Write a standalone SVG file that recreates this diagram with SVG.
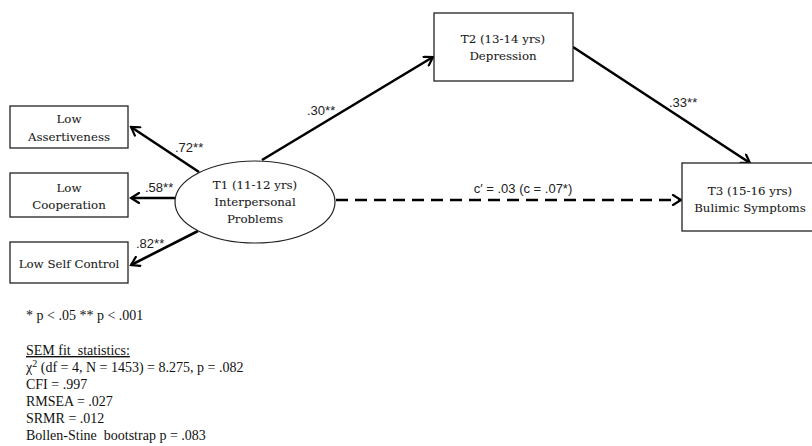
<svg xmlns="http://www.w3.org/2000/svg" width="812" height="446" viewBox="0 0 812 446">
<defs>
<marker id="arr" viewBox="0 0 12 12" refX="10" refY="6" markerWidth="12" markerHeight="12" markerUnits="userSpaceOnUse" orient="auto">
<path d="M2,1 L10,6 L2,11" fill="none" stroke="#000" stroke-width="2.2" stroke-linecap="round" stroke-linejoin="miter"/>
</marker>
<style>
.box{fill:#fff;stroke:#222;stroke-width:1.3}
.nt{font-family:"DejaVu Serif","Liberation Serif",serif;font-size:11.8px;fill:#1a1a1a;stroke:#1a1a1a;stroke-width:0.08;text-anchor:middle}
.lab{font-family:"Liberation Sans","Open Sans",sans-serif;font-size:13px;fill:#222}
.edge{stroke:#000;stroke-width:2.6;fill:none}
.note{font-family:"Liberation Serif","Times New Roman",serif;font-size:14px;fill:#111}
</style>
</defs>
<rect width="812" height="446" fill="#fff"/>
<g id="connectors">
<line class="edge" x1="199" y1="172" x2="131" y2="127" marker-end="url(#arr)"/>
<line class="edge" x1="175" y1="198" x2="131" y2="198" marker-end="url(#arr)"/>
<line class="edge" x1="198" y1="231" x2="131" y2="265" marker-end="url(#arr)"/>
<line class="edge" x1="262" y1="160" x2="433" y2="57" marker-end="url(#arr)"/>
<line class="edge" x1="573" y1="47" x2="750" y2="163" marker-end="url(#arr)"/>
<line class="edge" x1="336" y1="200" x2="681" y2="200" stroke-dasharray="12 7" stroke-width="3" marker-end="url(#arr)"/>
<text class="lab" x="175" y="152">.72**</text>
<text class="lab" x="145" y="192">.58**</text>
<text class="lab" x="136" y="248">.82**</text>
<text class="lab" x="307" y="115">.30**</text>
<text class="lab" x="669" y="107">.33**</text>
<text class="lab" x="523" y="193" text-anchor="middle">c′ = .03 (c = .07*)</text>
</g>
<g id="low-assertiveness">
<rect class="box" x="10" y="106" width="118" height="42"/>
<text class="nt" x="69" y="123">Low</text>
<text class="nt" x="69" y="141">Assertiveness</text>
</g>
<g id="low-cooperation">
<rect class="box" x="10" y="173" width="118" height="44"/>
<text class="nt" x="69" y="192">Low</text>
<text class="nt" x="69" y="209">Cooperation</text>
</g>
<g id="low-self-control">
<rect class="box" x="10" y="242" width="118" height="41"/>
<text class="nt" x="69" y="268">Low Self Control</text>
</g>
<g id="t1">
<ellipse cx="255" cy="202" rx="80" ry="41" fill="#fff" stroke="#222" stroke-width="1.2"/>
<text class="nt" x="255" y="189">T1 (11-12 yrs)</text>
<text class="nt" x="255" y="206">Interpersonal</text>
<text class="nt" x="255" y="223">Problems</text>
</g>
<g id="t2">
<rect class="box" x="434" y="13" width="139" height="68"/>
<text class="nt" x="503" y="43">T2 (13-14 yrs)</text>
<text class="nt" x="503" y="60">Depression</text>
</g>
<g id="t3">
<rect class="box" x="682" y="163" width="136" height="68"/>
<text class="nt" x="750" y="195">T3 (15-16 yrs)</text>
<text class="nt" x="750" y="212">Bulimic Symptoms</text>
</g>
<g id="notes">
<text class="note" x="26" y="320">* p &lt; .05 ** p &lt; .001</text>
<text class="note" x="26" y="355" text-decoration="underline" xml:space="preserve">SEM fit  statistics:</text>
<text class="note" x="26" y="372">χ<tspan dy="-5" font-size="10">2</tspan><tspan dy="5"> (df = 4, N = 1453) = 8.275, p = .082</tspan></text>
<text class="note" x="26" y="389">CFI = .997</text>
<text class="note" x="26" y="406">RMSEA = .027</text>
<text class="note" x="26" y="423">SRMR = .012</text>
<text class="note" x="26" y="440" xml:space="preserve">Bollen-Stine  bootstrap p = .083</text>
</g>
</svg>
